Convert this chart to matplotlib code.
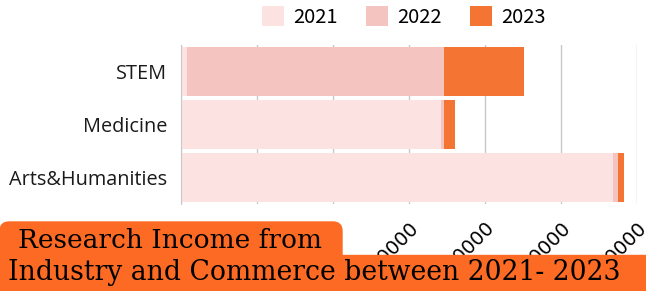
import numpy as np
import matplotlib.pyplot as plt
from matplotlib.patches import FancyBboxPatch

categories = ["STEM", "Medicine", "Arts&Humanities"]
years = ["2021", "2022", "2023"]
v2021 = [8000, 342000, 568000]
v2022 = [338000, 4000, 6500]
v2023 = [105000, 14500, 8000]
xticks = [0, 100000, 200000, 300000, 400000, 500000, 600000]

colors = ["#fde2e2", "#f4c5c0", "#f47433"]

fig = plt.figure(figsize=(6.46, 2.91), dpi=100)
ax = fig.add_axes([181/646, 87/291, 456/646, 159/291])

y = np.arange(len(categories))[::-1]
left = np.zeros(len(categories))
for vals, c, lab in zip([v2021, v2022, v2023], colors, years):
    ax.barh(y, vals, left=left, height=0.94, color=c, label=lab, zorder=2)
    left += np.array(vals)

ax.set_xlim(0, 600000)
ax.set_ylim(-0.5, 2.5)
ax.set_xticks(xticks)
ax.set_xticklabels([str(t) for t in xticks], rotation=45, ha="right",
                   rotation_mode="anchor", fontsize=14, family="DejaVu Sans")
ax.tick_params(axis="x", length=0, pad=10)
ax.tick_params(axis="y", length=0, pad=10)
ax.set_yticks(y)
ax.set_yticklabels(categories, fontsize=14.3, family="Open Sans", color="#1a1a1a")
ax.grid(axis="x", color="#c8c8c8", lw=1, zorder=0)
for s in ["top", "right", "bottom"]:
    ax.spines[s].set_visible(False)
ax.spines["left"].set_color("#c8c8c8")

leg = fig.legend(loc="upper left", bbox_to_anchor=(244/646, 1.04), ncol=3, frameon=False,
                 handlelength=1.1, handleheight=1.1, columnspacing=1.4, handletextpad=0.45,
                 prop={"family": "Noto Sans CJK SC", "size": 14.5})

# title box
orange = "#fc6a24"
fig.patches.append(FancyBboxPatch((0, 0), 1.0, 36/291, boxstyle="square,pad=0",
                                  transform=fig.transFigure, color=orange, zorder=5))
fig.patches.append(FancyBboxPatch((0, 20/291), 342/646, 49/291,
                                  boxstyle="round,pad=0,rounding_size=0.014",
                                  mutation_aspect=646/291,
                                  transform=fig.transFigure, color=orange, zorder=5))
fig.text(18/646, 51/291, "Research Income from", family="DejaVu Serif",
         fontsize=19, va="center", ha="left", zorder=6)
fig.text(8/646, 18/291, "Industry and Commerce between 2021- 2023", family="DejaVu Serif",
         fontsize=19.2, va="center", ha="left", zorder=6)

fig.savefig("out.png", dpi=100)
